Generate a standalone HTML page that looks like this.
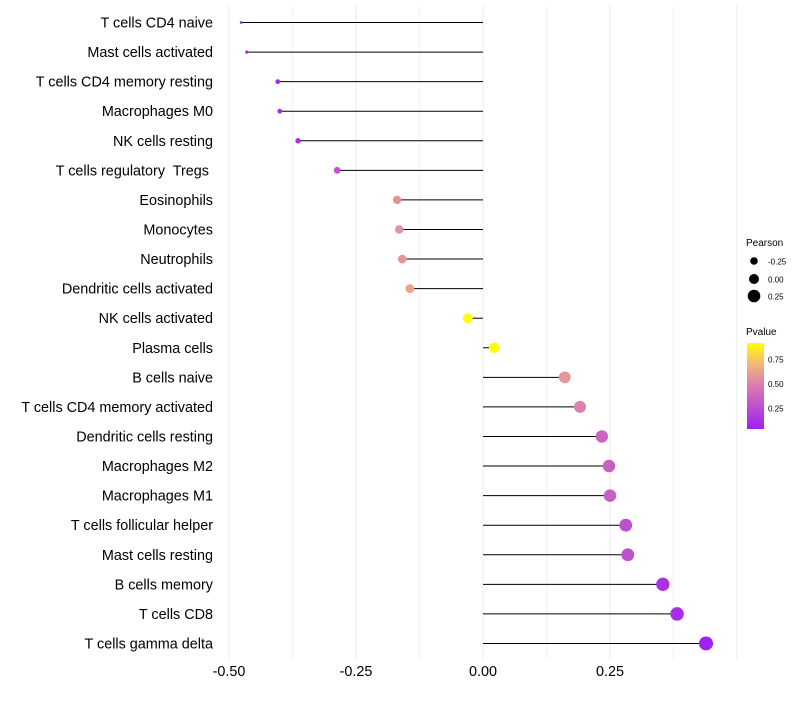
<!DOCTYPE html>
<html><head><meta charset="utf-8"><style>
body{margin:0;background:#fff;font-family:"Liberation Sans",sans-serif}
text{white-space:pre}
</style></head><body>
<svg id="chart" width="800" height="700" xmlns="http://www.w3.org/2000/svg" font-family="Liberation Sans, sans-serif">
<defs><linearGradient id="pg" x1="0" y1="1" x2="0" y2="0">
<stop offset="0" stop-color="#A020F0"/><stop offset="0.5" stop-color="#D97BB2"/><stop offset="0.75" stop-color="#F2B47C"/><stop offset="1" stop-color="#FFFF00"/></linearGradient></defs>
<g id="grid"></g><g id="marks"></g><g id="labels"></g><g id="xticks"></g>
<g>
<text x="746" y="246" font-size="10" fill="#000">Pearson</text>
<circle cx="754" cy="261" r="3.8" fill="#000"/><text x="768" y="264.5" font-size="8" fill="#000">-0.25</text>
<circle cx="754" cy="279" r="5" fill="#000"/><text x="768" y="282.5" font-size="8" fill="#000">0.00</text>
<circle cx="754" cy="296" r="6.3" fill="#000"/><text x="768" y="299.5" font-size="8" fill="#000">0.25</text>
<text x="746" y="335" font-size="10" fill="#000">Pvalue</text>
<rect x="747" y="343" width="17" height="86" fill="url(#pg)"/>
<text x="768" y="362.5" font-size="8" fill="#000">0.75</text>
<text x="768" y="387" font-size="8" fill="#000">0.50</text>
<text x="768" y="411.5" font-size="8" fill="#000">0.25</text>
</g>
</svg>
<script>
const categories=["T cells CD4 naive","Mast cells activated","T cells CD4 memory resting","Macrophages M0","NK cells resting","T cells regulatory  Tregs ","Eosinophils","Monocytes","Neutrophils","Dendritic cells activated","NK cells activated","Plasma cells","B cells naive","T cells CD4 memory activated","Dendritic cells resting","Macrophages M2","Macrophages M1","T cells follicular helper","Mast cells resting","B cells memory","T cells CD8","T cells gamma delta"];
const pearson=[-0.476,-0.465,-0.404,-0.400,-0.364,-0.287,-0.169,-0.165,-0.159,-0.144,-0.030,0.022,0.161,0.191,0.234,0.248,0.250,0.281,0.285,0.354,0.382,0.439];
const pvalue=[0.03,0.04,0.08,0.08,0.12,0.30,0.60,0.60,0.61,0.68,0.90,0.92,0.62,0.53,0.38,0.36,0.36,0.28,0.28,0.12,0.10,0.03];
const xTicks=[-0.5,-0.25,0,0.25];
const xTickLabels=["-0.50","-0.25","0.00","0.25"];
const NS="http://www.w3.org/2000/svg";
const x=v=>483+v*508;
const y=i=>22.5+i*29.57;
const r=v=>Math.sqrt(Math.max(1,26.4+51.4*v));
function col(p){const st=[[0.03,[160,32,240]],[0.5,[217,123,178]],[0.75,[242,180,124]],[0.9,[255,255,0]]];
p=Math.max(0.03,Math.min(0.9,p));for(let k=0;k<st.length-1;k++){const a=st[k],b=st[k+1];if(p<=b[0]){const t=(p-a[0])/(b[0]-a[0]);return "rgb("+a[1].map((c,j)=>Math.round(c+(b[1][j]-c)*t)).join(",")+")";}}return "rgb(255,255,0)";}
function mk(t,a,parent){const e=document.createElementNS(NS,t);for(const k in a)e.setAttribute(k,a[k]);document.getElementById(parent).appendChild(e);return e;}
for(let v=-0.5;v<=0.5001;v+=0.125){const g=mk("line",{x1:x(v),x2:x(v),y1:5,y2:660,stroke:"#ebebeb","stroke-width":Math.abs((v*8)%2)<0.01?1:0.6},"grid");

}
categories.forEach((c,i)=>{
const l=mk("line",{x1:x(0),x2:x(pearson[i]),y1:y(i),y2:y(i),stroke:"#000","stroke-width":1},"marks");


const d=mk("circle",{cx:x(pearson[i]),cy:y(i),r:r(pearson[i]),fill:col(pvalue[i])},"marks");


const t=mk("text",{x:213,y:y(i)+5,"text-anchor":"end","font-size":14.4,fill:"#000"},"labels");
t.textContent=c;


});
xTicks.forEach((v,i)=>{const t=mk("text",{x:x(v),y:676,"text-anchor":"middle","font-size":14.4,fill:"#000"},"xticks");
t.textContent=xTickLabels[i];

});
</script>
</body></html>
